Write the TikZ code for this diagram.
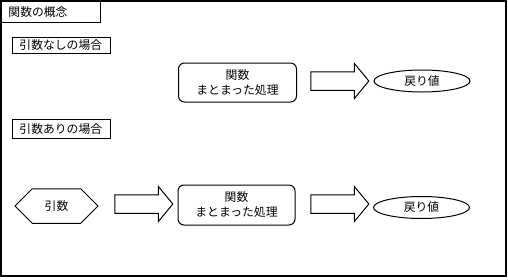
\documentclass[tikz,border=0pt]{standalone}
\usepackage{fontspec}
\newfontfamily\jpfont{Noto Sans CJK JP}
\usetikzlibrary{shapes.geometric,shapes.arrows,shapes.misc}

\begin{document}
\begin{tikzpicture}[x=1pt,y=-1pt,
  every node/.style={font=\jpfont\fontsize{11.8}{15}\selectfont,line width=1pt},
  labelbox/.style={draw,anchor=north west,inner xsep=7pt,inner ysep=0pt,text width=84pt,align=left},
  funcbox/.style={draw,rounded corners=6pt,minimum width=118pt,minimum height=39pt,align=center,inner sep=0pt},
  blockarrow/.style={draw,single arrow,single arrow tip angle=101,single arrow head extend=8.25pt,
    minimum height=58pt,inner sep=8.75pt},
  retval/.style={draw,ellipse,minimum width=96pt,minimum height=22pt,inner sep=0pt},
  argbox/.style={draw,chamfered rectangle,chamfered rectangle xsep=18pt,chamfered rectangle ysep=16pt,
    minimum width=83pt,minimum height=32pt,inner sep=0pt}]
\useasboundingbox (0,0) rectangle (508,279);
% frame and title
\draw[line width=2pt] (1,1) rectangle (506,276);
\node[labelbox,minimum height=21pt,text width=85pt] (title) at (1,1) {関数の概念};
% without arguments
\node[labelbox,minimum height=16pt] (caseA) at (12,37) {引数なしの場合};
\node[funcbox] (funcA) at (237.5,82.5) {関数\\まとまった処理};
\node[blockarrow] (arrA) at (336,81) {};
\node[retval] (retA) at (422,81) {戻り値};
% with arguments
\node[labelbox,minimum height=19pt] (caseB) at (12,119) {引数ありの場合};
\node[argbox] (arg) at (56.5,206) {引数};
\node[blockarrow] (arrB1) at (140,204) {};
\node[funcbox,minimum width=117pt,minimum height=40pt] (funcB) at (236.5,205) {関数\\まとまった処理};
\node[blockarrow] (arrB2) at (336,204) {};
\node[retval] (retB) at (421.5,207.5) {戻り値};
\end{tikzpicture}
\end{document}
